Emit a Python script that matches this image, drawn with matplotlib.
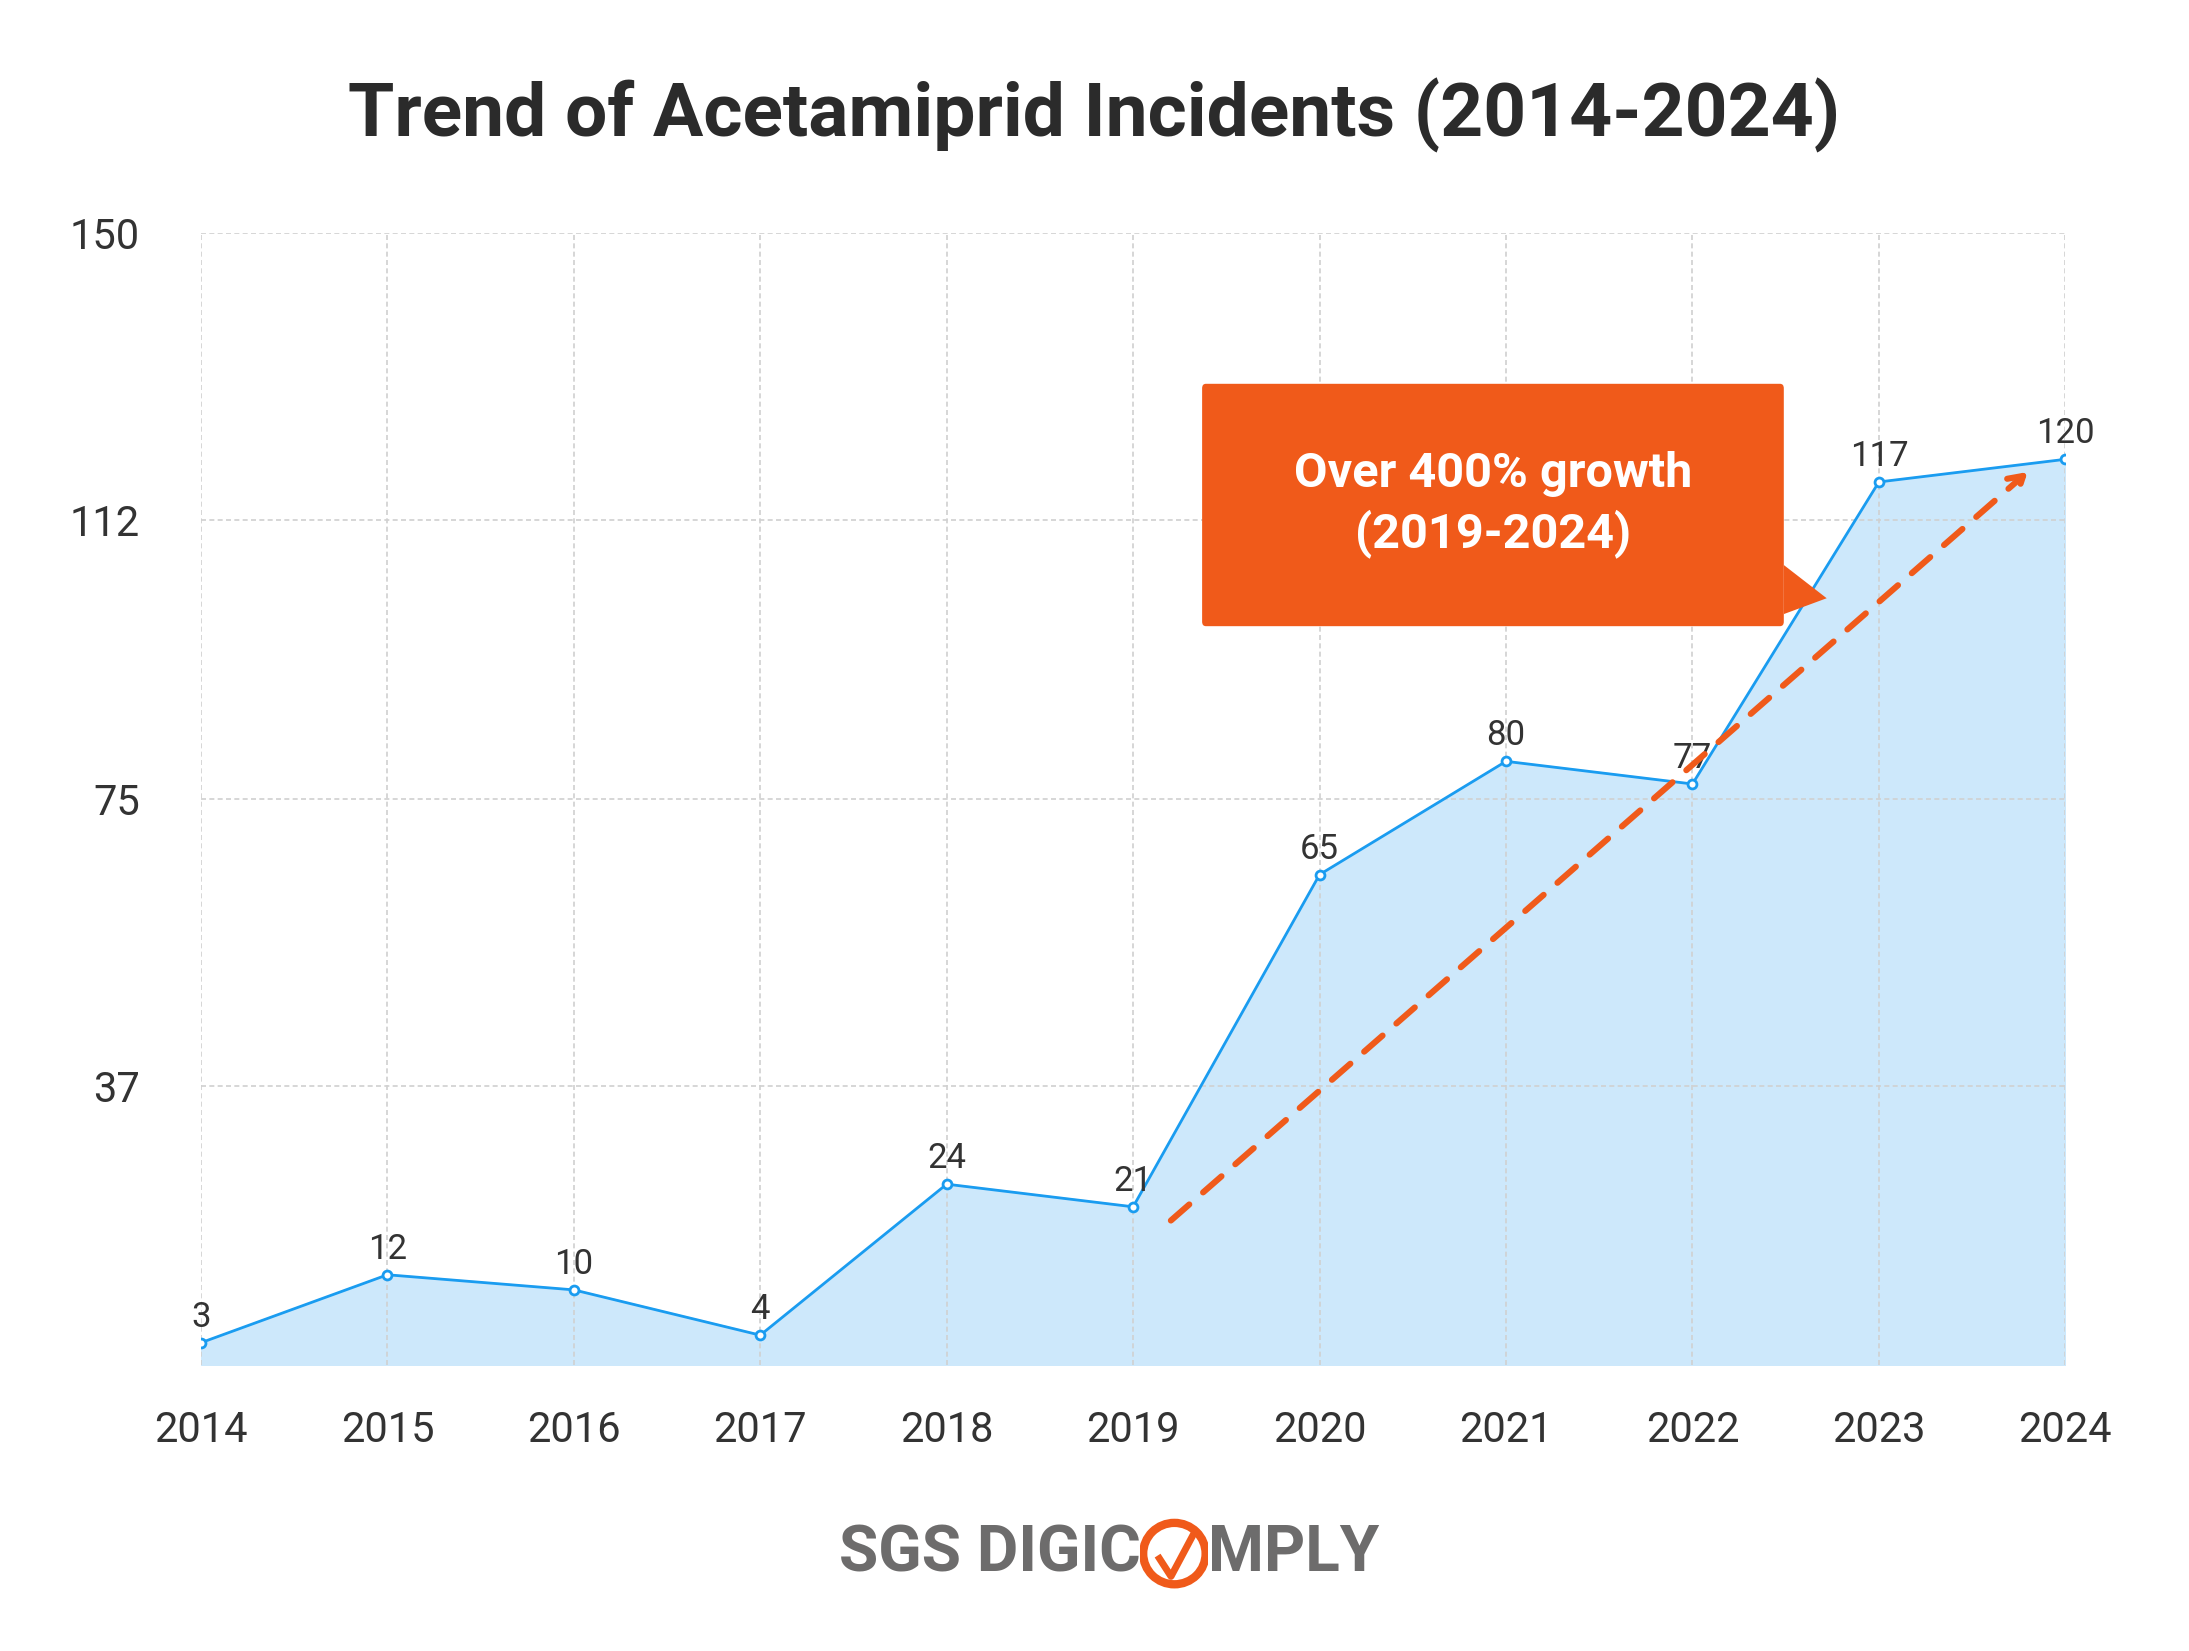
import matplotlib
matplotlib.use("Agg")
import matplotlib.pyplot as plt
from matplotlib.patches import FancyBboxPatch, Polygon, Ellipse
from matplotlib.lines import Line2D

years = [2014, 2015, 2016, 2017, 2018, 2019, 2020, 2021, 2022, 2023, 2024]
incidents = [3, 12, 10, 4, 24, 21, 65, 80, 77, 117, 120]
yticks = [37, 75, 112, 150]
title = "Trend of Acetamiprid Incidents (2014-2024)"
callout = "Over 400% growth\n(2019-2024)"

BLUE = "#1a9cf0"
FILL = "#cde8fb"
ORANGE = "#f05a1a"
plt.rcParams["font.family"] = "Roboto"

fig = plt.figure(figsize=(10.945, 8.255), dpi=200)
ax = fig.add_axes([0.0918, 0.173, 0.8517, 0.686])
ax.fill_between(years, incidents, 0, color=FILL, zorder=1)
ax.plot(years, incidents, color=BLUE, lw=1.0, marker="o", ms=3.2,
        mfc="white", mec=BLUE, mew=1.0, zorder=3)
for x, y in zip(years, incidents):
    ax.text(x, y + 1.2, str(y), ha="center", va="bottom", fontsize=12.5, color="#333333", zorder=4)

ax.set_xlim(2014, 2024)
ax.set_ylim(0, 150)
ax.set_xticks(years)
ax.set_xticklabels([str(y) for y in years], fontsize=15, color="#333333")
ax.set_yticks(yticks)
ax.set_yticklabels([str(t) for t in yticks], fontsize=15, color="#333333")
ax.tick_params(length=0)
ax.tick_params(axis="x", pad=16)
ax.tick_params(axis="y", pad=22)
ax.grid(True, color="#d0d0d0", ls=(0, (3, 2)), lw=0.6, zorder=0)
for s in ax.spines.values():
    s.set_visible(False)

# dashed trend arrow
ax.annotate("", xy=(2023.82, 118.8), xytext=(2019.18, 18.7),
            arrowprops=dict(arrowstyle="->,head_length=0.5,head_width=0.3", color=ORANGE,
                            lw=2.2, ls=(0, (4, 3))), zorder=5)

# callout box
box = FancyBboxPatch((2019.37, 97.9), 3.12, 32.1, boxstyle="round,pad=0,rounding_size=0.02",
                     fc=ORANGE, ec="none", zorder=6, mutation_aspect=30)
ax.add_patch(box)
ax.add_patch(Polygon([(2022.49, 106), (2022.72, 101.6), (2022.49, 99.5)], closed=True,
                     fc=ORANGE, ec="none", zorder=6))
ax.text(2020.93, 114, callout, ha="center", va="center", fontsize=17.5, fontweight="bold",
        color="white", zorder=7, linespacing=1.3)

fig.text(0.5, 0.93, title, ha="center", va="center", fontsize=27, fontweight="bold", color="#2b2b2b")

# logo
GRAY = "#6d6c6c"
ly = 0.059
fig.text(0.521, ly, "SGS DIGIC", ha="right", va="center", fontsize=23, fontweight="bold", color=GRAY)
fig.text(0.552, ly, "MPLY", ha="left", va="center", fontsize=23, fontweight="bold", color=GRAY)
lax = fig.add_axes([0.521, ly - 0.03, 0.031, 0.06])
lax.set_xlim(0, 1); lax.set_ylim(0, 1); lax.axis("off")
lax.add_patch(Ellipse((0.5, 0.5), 0.92, 0.62, fill=False, ec=ORANGE, lw=3))
lax.add_line(Line2D([0.28, 0.45, 0.8], [0.45, 0.27, 0.72], color=ORANGE, lw=2.5))

fig.savefig("out.png", dpi=200, facecolor="white")
